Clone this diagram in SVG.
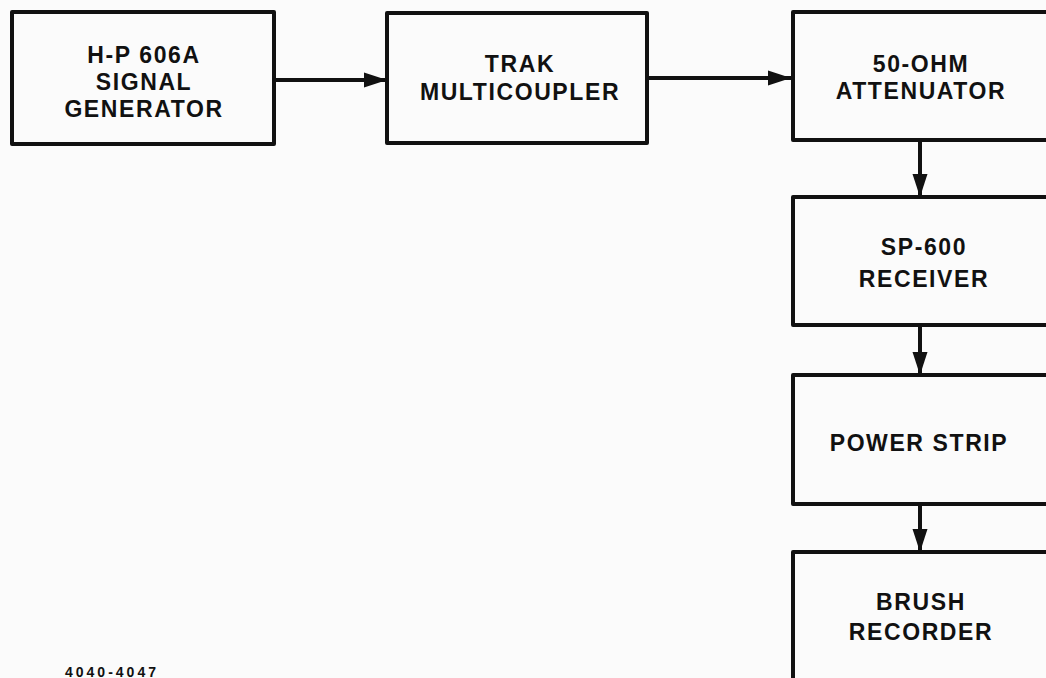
<svg xmlns="http://www.w3.org/2000/svg" width="1046" height="678" viewBox="0 0 1046 678">
<defs>
<style>
.box{fill:none;stroke:#111;stroke-width:4;stroke-linejoin:round}
.lbl{font-family:"Liberation Sans",Arial,sans-serif;font-weight:bold;font-size:23px;fill:#111;text-anchor:middle;letter-spacing:1.6px}
.conn{stroke:#111;stroke-width:4;fill:none}
</style>
<marker id="ah" markerUnits="userSpaceOnUse" markerWidth="26" markerHeight="18" refX="23" refY="8" orient="auto">
<path d="M0,0.5 L23,8 L0,15.5 Z" fill="#111"/>
</marker>
</defs>
<rect width="1046" height="678" fill="#fbfbfb"/>
<g id="n1">
<rect class="box" x="12" y="12" width="262" height="132"/>
<text class="lbl" x="144" y="63">H-P 606A</text>
<text class="lbl" x="144" y="90">SIGNAL</text>
<text class="lbl" x="144" y="117">GENERATOR</text>
</g>
<g id="n2">
<rect class="box" x="387" y="13" width="260" height="130"/>
<text class="lbl" x="520" y="72">TRAK</text>
<text class="lbl" x="520" y="100">MULTICOUPLER</text>
</g>
<g id="n3">
<rect class="box" x="793" y="12" width="260" height="128"/>
<text class="lbl" x="921" y="72">50-OHM</text>
<text class="lbl" x="921" y="99">ATTENUATOR</text>
</g>
<g id="n4">
<rect class="box" x="793" y="197" width="260" height="128"/>
<text class="lbl" x="924" y="255">SP-600</text>
<text class="lbl" x="924" y="287">RECEIVER</text>
</g>
<g id="n5">
<rect class="box" x="793" y="375" width="260" height="129"/>
<text class="lbl" x="919" y="451">POWER STRIP</text>
</g>
<g id="n6">
<rect class="box" x="793" y="552" width="260" height="140"/>
<text class="lbl" x="921" y="610">BRUSH</text>
<text class="lbl" x="921" y="640">RECORDER</text>
</g>
<g id="connectors">
<line class="conn" x1="274" y1="80" x2="387" y2="80" marker-end="url(#ah)"/>
<line class="conn" x1="647" y1="78" x2="791" y2="78" marker-end="url(#ah)"/>
<line class="conn" x1="920" y1="140" x2="920" y2="197" marker-end="url(#ah)"/>
<line class="conn" x1="920" y1="325" x2="920" y2="375" marker-end="url(#ah)"/>
<line class="conn" x1="920" y1="504" x2="920" y2="552" marker-end="url(#ah)"/>
</g>
<text x="65" y="677" style="font-family:'Liberation Sans',Arial,sans-serif;font-weight:bold;font-size:14px;fill:#111;letter-spacing:3px">4040-4047</text>
</svg>
